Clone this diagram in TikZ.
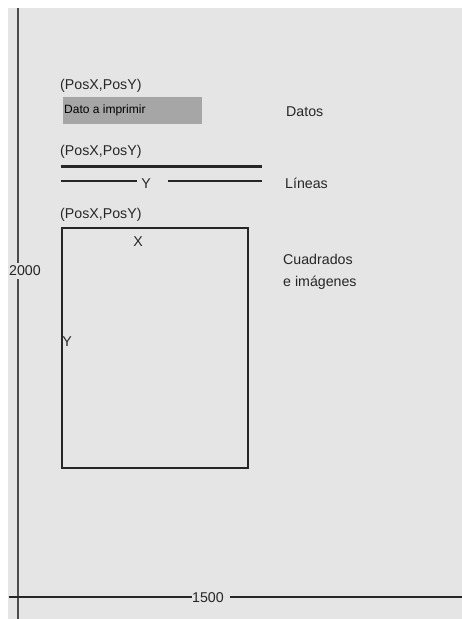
\documentclass[tikz,border=0pt]{standalone}
\usepackage{fontspec}
\setmainfont{Liberation Sans}

\begin{document}
\begin{tikzpicture}[x=1pt, y=-1pt,
  txt/.style={font=\fontsize{14.2}{22}\selectfont, inner sep=0pt, text=black!85},
  axis/.style={draw=black!70, line width=2pt},
  trazo/.style={draw=black!85, line width=1.2pt}]
\useasboundingbox (0,0) rectangle (462,619);
\fill [white] (0,0) rectangle (462,619);
\fill [black!10] (8,8) rectangle (462,619);

% ejes
\coordinate (ejetop) at (18,8);
\coordinate (ejebot) at (18,619);
\node [txt, anchor=center] (alto) at (25,271) {2000};
\draw [axis] (ejetop) -- ([yshift=3pt]alto.north -| ejetop);
\draw [axis] ([yshift=-3pt]alto.south -| ejetop) -- (ejebot);
\coordinate (ejeizq) at (9,597);
\coordinate (ejeder) at (462,597);
\node [txt, anchor=center] (ancho) at (208,598) {1500};
\draw [trazo, line width=1.5pt] (ejeizq) -- (ancho.west |- ejeizq);
\draw [trazo, line width=1.5pt] ([xshift=6pt]ancho.east |- ejeizq) -- (ejeder);

% datos
\node [txt, anchor=west] (pos1) at (60,86) {(PosX,PosY)};
\node [fill=black!35, minimum width=139pt, minimum height=27pt, inner sep=0pt, anchor=north west] (dato) at (63,97) {};
\node [txt, font=\fontsize{12}{14}\selectfont, anchor=west, text=black] (datotxt) at ([xshift=1pt]dato.west) {Dato a imprimir};
\node [txt, anchor=west] (datos) at (286,112) {Datos};

% lineas
\node [txt, anchor=west] (pos2) at (60,152) {(PosX,PosY)};
\coordinate (l1a) at (61,166);
\coordinate (l1b) at (262,166);
\draw [trazo, line width=3pt] (l1a) -- (l1b);
\node [txt, anchor=center] (ly) at (146,184) {Y};
\coordinate (l2a) at (61,181);
\coordinate (l2b) at (137,181);
\coordinate (l2c) at (168,181);
\coordinate (l2d) at (262,181);
\draw [trazo] (l2a) -- (l2b);
\draw [trazo] (l2c) -- (l2d);
\node [txt, anchor=west] (lineas) at (285,183) {Líneas};

% cuadrados
\node [txt, anchor=west] (pos3) at (60,215) {(PosX,PosY)};
\node [trazo, line width=1.5pt, minimum width=186pt, minimum height=240pt, anchor=north west] (cuadro) at (61,227) {};
\node [txt, anchor=center] (cx) at (138,242) {X};
\node [txt, anchor=center] (cy) at (67,342) {Y};
\node [txt, anchor=north west, align=left] (cuadrados) at (283,254) {Cuadrados\\e imágenes};
\end{tikzpicture}
\end{document}
